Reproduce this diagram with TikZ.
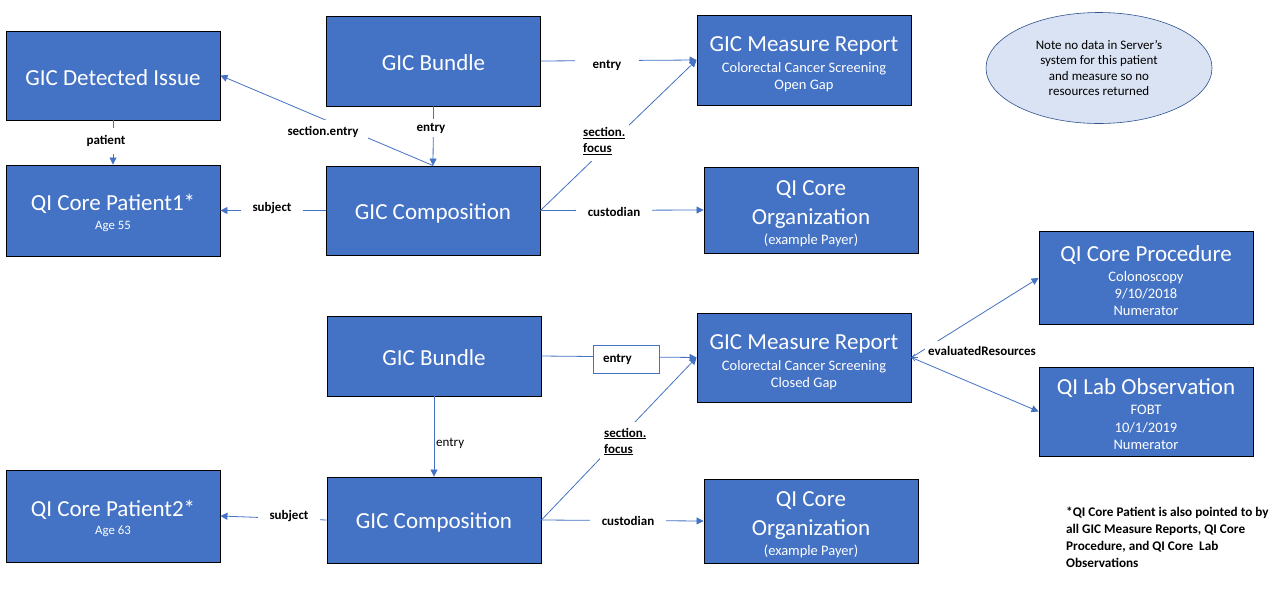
\documentclass[tikz,border=0pt]{standalone}
\usepackage{fontspec}
\setmainfont{Carlito}
\usetikzlibrary{arrows.meta,shapes.geometric}
\definecolor{boxblue}{HTML}{4472C4}
\definecolor{notefill}{HTML}{DAE3F3}
\definecolor{noteline}{HTML}{2F528F}
\newcommand\ttl[1]{{\fontsize{23}{27}\selectfont #1}}
\newcommand\sml[1]{{\fontsize{12.8}{15}\selectfont #1}}
\newcommand\topstrut[1]{\rule{0pt}{#1pt}}
\begin{document}
\begin{tikzpicture}[x=1pt,y=-1pt,
 res/.style={draw=black, line width=0.9pt, fill=boxblue, text=white, align=center, inner sep=0pt,
   minimum width=214pt, font=\fontsize{14.5}{17.3}\selectfont},
 conn/.style={draw=boxblue, line width=0.8pt, -{Triangle[length=7pt,width=7pt]}},
 lab/.style={fill=white, inner xsep=8pt, inner ysep=4pt, font=\bfseries\fontsize{13}{15}\selectfont},
 ulab/.style={fill=white, inner xsep=4pt, inner ysep=6pt, anchor=west, align=left, font=\bfseries\fontsize{13}{16}\selectfont},
]
\useasboundingbox[fill=white] (0,0) rectangle (1285,600);

% resources
\node[res, minimum height=89pt] (di) at (113,75.5) {\ttl{\topstrut{21}GIC Detected Issue}};
\node[res, minimum height=91pt] (p1) at (113,210.5) {\ttl{\topstrut{21}QI Core Patient1*}\\[1.5pt]\sml{Age 55}};
\node[res, minimum height=90pt] (b1) at (433.5,61) {\ttl{\topstrut{20}GIC Bundle}};
\node[res, minimum height=89pt] (c1) at (433,210.5) {\ttl{\topstrut{21}GIC Composition}};
\node[res, minimum height=90pt] (mr1) at (804,60) {\ttl{\topstrut{24}GIC Measure Report}\\[3.5pt]Colorectal Cancer Screening\\Open Gap};
\node[res, minimum height=86pt] (o1) at (811,210) {\ttl{\topstrut{23}QI Core}\\[8.5pt]\ttl{Organization}\\[3.5pt](example Payer)};
\node[ellipse, draw=noteline, fill=notefill, line width=0.6pt, minimum width=226pt, minimum height=111pt,
  inner sep=0pt, align=center, font=\fontsize{13}{15.5}\selectfont] (note) at (1099,68)
  {Note no data in Server’s\\system for this patient\\and measure so no\\resources returned};
\node[res, minimum height=93pt] (pr) at (1146,278) {\ttl{\topstrut{21}QI Core Procedure}\\[3pt]Colonoscopy\\9/10/2018\\Numerator};
\node[res, minimum height=89pt] (lo) at (1146,411.5) {\ttl{\topstrut{21}QI Lab Observation}\\[3pt]FOBT\\10/1/2019\\Numerator};
\node[res, minimum height=80pt] (b2) at (434,356) {\ttl{\topstrut{20}GIC Bundle}};
\node[res, minimum height=89pt] (mr2) at (804,357.5) {\ttl{\topstrut{24}GIC Measure Report}\\[3.5pt]Colorectal Cancer Screening\\Closed Gap};
\node[res, minimum height=86pt] (c2) at (434,520) {\ttl{\topstrut{21}GIC Composition}};
\node[res, minimum height=92pt] (p2) at (113,516) {\ttl{\topstrut{21}QI Core Patient2*}\\[1.5pt]\sml{Age 63}};
\node[res, minimum height=84pt] (o2) at (811,521) {\ttl{\topstrut{23}QI Core}\\[8.5pt]\ttl{Organization}\\[3.5pt](example Payer)};

\node[anchor=north west, align=left, inner sep=0pt, font=\bfseries\fontsize{13.2}{16.8}\selectfont] (foot) at (1066,507)
  {*QI Core Patient is also pointed to by\\all GIC Measure Reports, QI Core\\Procedure, and QI Core\ \ Lab\\Observations};

% connectors
\draw[conn] (b1.south) -- (c1.north);
\draw[conn] (c1.north) -- (di.east);
\draw[conn] (di.south) -- (p1.north);
\draw[conn] (c1.west) -- (p1.east);
\draw[conn] (b1.east) -- (mr1.west);
\draw[conn] (c1.east) -- (mr1.west);
\draw[conn] (c1.east) -- (o1.west);
\draw[conn] (b2.east) -- (mr2.west);
\draw[conn] (c2.east) -- (mr2.west);
\draw[conn] (b2.south) -- (c2.north);
\draw[conn] (c2.west) -- (p2.east);
\draw[conn] (c2.east) -- (o2.west);
\draw[conn] (mr2.east) -- (pr.west);
\draw[conn] (mr2.east) -- (lo.west);
\coordinate (stub) at (918,357.5);
\draw[draw=boxblue, line width=0.6pt, {Straight Barb[length=3pt,width=7pt]}-] (mr2.east) -- (stub);

% labels
\node[lab] (l1) at (431,128) {entry};
\node[lab, inner xsep=10pt, inner ysep=6pt] (l2) at (323,132) {section.entry};
\node[lab, inner ysep=7pt] (l3) at (106,141) {patient};
\node[lab, inner xsep=12pt] (l4) at (272,208) {subject};
\node[lab, inner xsep=18pt] (l5) at (607,65) {entry};
\node[ulab] (l6) at (579,141) {\underline{section.}\\\underline{focus}};
\node[lab, inner xsep=12pt] (l7) at (614,212) {custodian};
\node[draw=boxblue, fill=white, line width=0.6pt, minimum height=28pt, text width=46pt, inner xsep=10pt, align=left,
  font=\bfseries\fontsize{13}{15}\selectfont] (l8) at (626,359) {entry};
\node[ulab] (l9) at (600,441.5) {\underline{section.}\\\underline{focus}};
\node[lab, inner xsep=1pt, anchor=west, fill=none] (l10) at (435,443) {\mdseries entry};
\node[lab, inner xsep=12pt] (l11) at (289,516) {subject};
\node[lab, inner xsep=12pt] (l12) at (628,521) {custodian};
\node[lab, inner xsep=3pt, inner ysep=5pt] (l13) at (982,351) {evaluatedResources};
\end{tikzpicture}
\end{document}
